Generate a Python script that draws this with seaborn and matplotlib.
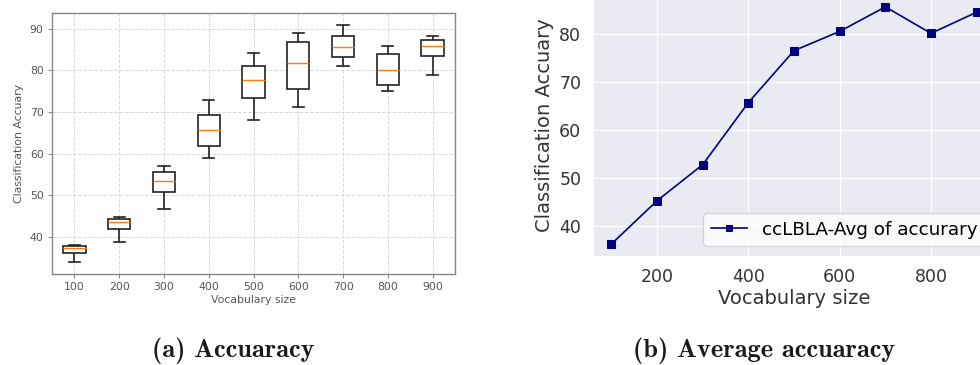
import numpy as np
import pandas as pd
import matplotlib
matplotlib.use("Agg")
import matplotlib.pyplot as plt
import seaborn as sns

# Vocabulary sizes evaluated
sizes = [100, 200, 300, 400, 500, 600, 700, 800, 900]

# Per-size accuracy distribution summary (whisker ends, quartiles, median)
acc_low = [34.0, 38.9, 46.8, 59.0, 68.0, 71.2, 81.1, 75.1, 78.9]
acc_q1 = [36.1, 41.8, 50.7, 61.9, 73.3, 75.5, 83.2, 76.6, 83.5]
acc_med = [37.4, 43.5, 53.4, 65.6, 77.6, 81.7, 85.7, 80.0, 85.9]
acc_q3 = [37.9, 44.4, 55.5, 69.2, 81.1, 86.8, 88.2, 83.9, 87.4]
acc_high = [38.0, 44.8, 57.1, 73.0, 84.1, 89.1, 91.0, 85.9, 88.2]

# Average accuracy per vocabulary size
avg_acc = [36.3, 45.3, 52.8, 65.7, 76.5, 80.5, 85.6, 80.1, 84.5]

y_ticks_left = [40, 50, 60, 70, 80, 90]
y_ticks_right = [40, 50, 60, 70, 80]
x_ticks_right = [200, 400, 600, 800]

legend_label = "ccLBLA-Avg of accurary"
x_label = "Vocabulary size"
y_label = "Classification Accuary"
caption_a = "(a) Accuaracy"
caption_b = "(b) Average accuaracy"

# long-form table for the box plot
rows = []
for s, lo, q1, md, q3, hi in zip(sizes, acc_low, acc_q1, acc_med, acc_q3, acc_high):
    for v in (lo, q1, md, q3, hi):
        rows.append({"size": str(s), "acc": v})
box_df = pd.DataFrame(rows)
line_df = pd.DataFrame({"size": sizes, "acc": avg_acc})

W, H = 980, 365
fig = plt.figure(figsize=(W / 100, H / 100), dpi=100)


def rect(x0, x1, top, bottom):
    return [x0 / W, 1 - bottom / H, (x1 - x0) / W, (bottom - top) / H]


# ---- left: box plot in plain matplotlib-like style ----
with sns.axes_style("white"):
    axL = fig.add_axes(rect(52, 455, 13, 274))

sns.boxplot(
    data=box_df, x="size", y="acc", ax=axL,
    width=0.5, color="white", linecolor="#222222", linewidth=1.2,
    whis=1.5, showfliers=False,
    medianprops={"color": "#ff7f0e", "linewidth": 1.0},
)
axL.set_xlim(-0.5, 8.5)
axL.set_ylim(31.1, 93.8)
axL.set_yticks(y_ticks_left)
axL.grid(True, linestyle="--", color="#d8d8d8", linewidth=0.7)
axL.set_axisbelow(True)
for sp in axL.spines.values():
    sp.set_color("#888888")
    sp.set_linewidth(1.0)
axL.tick_params(axis="both", labelsize=7.8, labelcolor="#555555", color="#888888",
                length=3, width=0.8, pad=3, bottom=True, left=True)
axL.set_xlabel(x_label, fontsize=7.8, color="#555555", labelpad=2)
axL.set_ylabel(y_label, fontsize=7.8, color="#555555", labelpad=4)

# ---- right: average accuracy line on a dark grid ----
with sns.axes_style("darkgrid"):
    axR = fig.add_axes(rect(593, 995, -5, 256))

sns.lineplot(
    data=line_df, x="size", y="acc", ax=axR,
    color="navy", marker="s", markersize=5.5, markeredgecolor="navy",
    linewidth=1.2, label=legend_label,
)
axR.set_xticks(x_ticks_right)
axR.set_yticks(y_ticks_right)
axR.tick_params(axis="both", labelsize=12.5, labelcolor="#333333", pad=5)
axR.set_xlabel(x_label, fontsize=14, color="#333333", labelpad=2)
axR.set_ylabel(y_label, fontsize=14, color="#333333", labelpad=4)
axR.legend(loc="lower right", fontsize=13.2, frameon=True, markerscale=0.7,
           borderaxespad=0.55)

# ---- sub-figure captions ----
fig.text(233.5 / W, 1 - 351 / H, caption_a, ha="center", va="center",
         fontsize=19, family="cmb10", color="#1a1a1a")
fig.text(764 / W, 1 - 351 / H, caption_b, ha="center", va="center",
         fontsize=19, family="cmb10", color="#1a1a1a")

fig.savefig("out.png", dpi=100)
